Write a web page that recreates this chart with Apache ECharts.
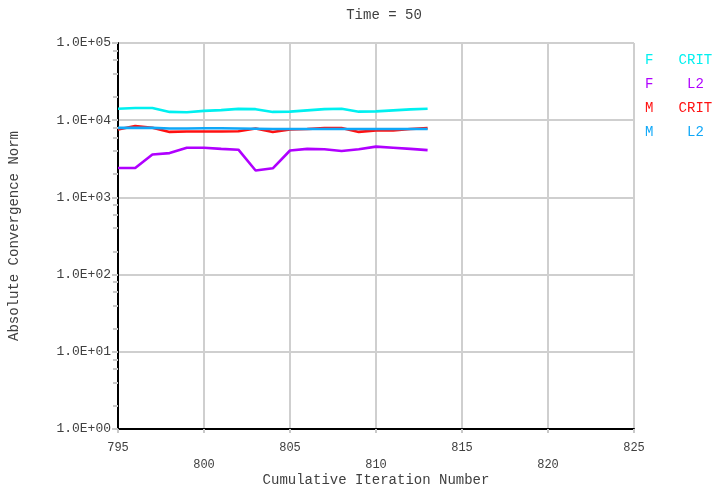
<!DOCTYPE html>
<html>
<head>
<meta charset="utf-8">
<script src="https://cdn.jsdelivr.net/npm/echarts@6/dist/echarts.min.js"></script>
<style>
html,body{margin:0;padding:0;background:#fff;}
#chart{width:715px;height:488px;}
</style>
</head>
<body>
<div id="chart"></div>
<script>
// Data
var iterations = [795,796,797,798,799,800,801,802,803,804,805,806,807,808,809,810,811,812,813];
var fCrit = [14100,14400,14400,12800,12700,13200,13500,14000,13900,12800,12900,13400,13900,14100,12900,13000,13400,13800,14100];
var fL2   = [2400,2400,3600,3750,4400,4400,4250,4150,2230,2380,4050,4250,4200,4000,4200,4550,4400,4250,4100];
var mCrit = [7600,8400,8000,7050,7150,7150,7150,7200,7800,7050,7600,7700,7900,7900,7050,7350,7350,7700,7900];
var mL2   = [7950,7950,7950,7800,7800,7850,7850,7800,7750,7700,7700,7700,7700,7700,7700,7700,7700,7700,7700];
var seriesNames = ['F   CRIT','F    L2','M   CRIT','M    L2'];
var seriesColors = ['#00f0f0','#b000ff','#ff1010','#10a8f8'];
var minorTickValues = [2,4,6,8,20,40,60,80,200,400,600,800,2000,4000,6000,8000,20000,40000,60000,80000];
var titleText = 'Time = 50';

function pairs(vals){ return iterations.map(function(x,i){ return [x, vals[i]]; }); }
var allVals = [fCrit, fL2, mCrit, mL2];
var font = 'Liberation Mono';
var chart = echarts.init(document.getElementById('chart'), null, {renderer:'canvas'});
chart.setOption({
  animation:false,
  backgroundColor:'#ffffff',
  title:{text:titleText, left:379, textAlign:'center', top:3,
    textStyle:{fontFamily:font, fontSize:14, fontWeight:'normal', color:'#404040'}},
  legend:{
    orient:'vertical', left:645, top:53, padding:0, itemGap:10, itemWidth:0, itemHeight:14, icon:'none',
    selectedMode:false,
    data: seriesNames.map(function(n,i){ return {name:n, textStyle:{color:seriesColors[i]}}; }),
    textStyle:{fontFamily:font, fontSize:14, padding:[0,0,0,-5]}
  },
  grid:{left:118, right:81, top:43, bottom:59, containLabel:false, outerBoundsMode:'none'},
  xAxis:{
    type:'value', min:795, max:825, interval:5,
    name:'Cumulative Iteration Number', nameLocation:'middle', nameGap:51, nameMoveOverlap:false,
    nameTextStyle:{fontFamily:font, fontSize:14, color:'#404040', verticalAlign:'middle'},
    axisLine:{show:true, onZero:false, lineStyle:{color:'#000', width:2}},
    axisTick:{show:true, length:4, lineStyle:{color:'#c8c8c8', width:2}},
    axisLabel:{fontFamily:font, fontSize:12, color:'#404040', margin:10, lineHeight:17,
      showMinLabel:true, showMaxLabel:true,
      formatter:function(v){ return (Math.round((v-795)/5) % 2) ? '\n'+v : String(v); }},
    splitLine:{show:true, lineStyle:{color:'#cfcfcf', width:2}}
  },
  yAxis:[{
    type:'log', logBase:10, min:1, max:100000,
    name:'Absolute Convergence Norm', nameLocation:'middle', nameGap:97, nameRotate:90, nameMoveOverlap:false,
    nameTextStyle:{fontFamily:font, fontSize:14, color:'#404040'},
    axisLine:{show:true, lineStyle:{color:'#000', width:2}},
    axisTick:{show:true, length:6, lineStyle:{color:'#c8c8c8', width:2}},
    axisLabel:{fontFamily:font, fontSize:13, color:'#404040', margin:7,
      formatter:function(v){ var e=Math.round(Math.log10(v)); return '1.0E+' + (e<10?'0':'') + e; }},
    splitLine:{show:true, lineStyle:{color:'#cfcfcf', width:2}}
  },{
    type:'log', logBase:10, min:1, max:100000, position:'left',
    axisLine:{show:false},
    axisLabel:{show:false},
    splitLine:{show:false},
    axisTick:{show:true, length:5, customValues:minorTickValues, lineStyle:{color:'#c8c8c8', width:2}}
  }],
  series: allVals.map(function(v,i){
    return {name:seriesNames[i], type:'line', data:pairs(v), showSymbol:false, symbol:'none',
      lineStyle:{color:seriesColors[i], width:2.6}, itemStyle:{color:seriesColors[i]}, z:2+i};
  })
});
</script>
</body>
</html>
